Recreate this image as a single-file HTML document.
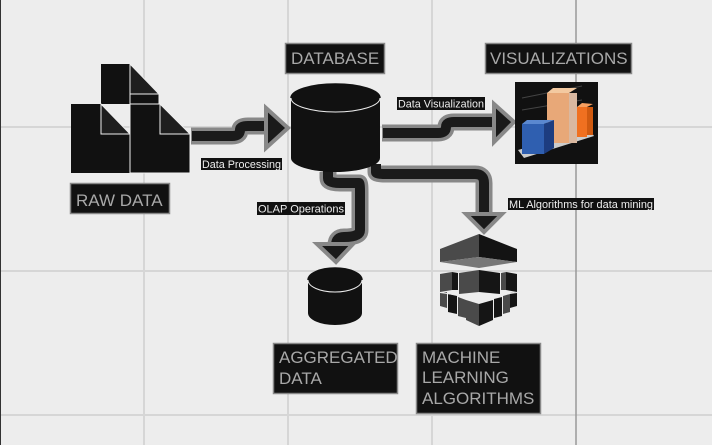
<!DOCTYPE html>
<html><head><meta charset="utf-8"><style>
html,body{margin:0;padding:0;background:#ededed;}
svg{display:block;font-family:"Liberation Sans",sans-serif;}
.lbl{fill:#111;stroke:#888;stroke-width:1.5}
.lt{fill:#a8a8a8;font-size:17px}
.sm{fill:#111}
.st{fill:#eee;font-size:11px}
</style></head><body>
<svg width="712" height="445" viewBox="0 0 712 445">
<rect width="712" height="445" fill="#ededed"/>
<g stroke="#d6d6d6" stroke-width="2">
<line x1="144" y1="0" x2="144" y2="445"/><line x1="288" y1="0" x2="288" y2="445"/><line x1="432" y1="0" x2="432" y2="445"/>
<line x1="0" y1="127" x2="712" y2="127"/><line x1="0" y1="271" x2="712" y2="271"/><line x1="0" y1="415" x2="712" y2="415"/>
</g>
<line x1="576" y1="0" x2="576" y2="445" stroke="#999" stroke-width="1.5"/>
<line x1="0.5" y1="0" x2="0.5" y2="445" stroke="#333" stroke-width="1"/>

<!-- raw data icon -->
<g stroke="#eee" stroke-width="1">
<path d="M101 64 H130 V104 H101 Z" fill="#111" stroke="none"/>
<path d="M130 64 L159 94 H130 Z" fill="#1e1e1e"/>
<rect x="130" y="94" width="29" height="10" fill="#111"/>
<path d="M71 104 H101 L130 134 V173 H71 Z" fill="#111" stroke="none"/>
<path d="M101 104 L130 134 H101 Z" fill="#1e1e1e"/>
<path d="M130 104 H160 L190 134 V173 H130 Z" fill="#111"/>
<path d="M160 104 L190 134 H160 Z" fill="#1e1e1e"/>
</g>

<g fill="none" stroke-linejoin="round" stroke-linecap="butt">
<path d="M191 136 H232 Q240 136 240 130 Q240 126 248 126 H270" stroke="#888" stroke-width="17"/>
<path d="M192 136 H232 Q240 136 240 130 Q240 126 248 126 H272" stroke="#1a1a1a" stroke-width="10"/>
<path d="M382 133 H438 Q446 133 446 127 Q446 122 454 122 H492" stroke="#888" stroke-width="17"/>
<path d="M383 133 H438 Q446 133 446 127 Q446 122 454 122 H494" stroke="#1a1a1a" stroke-width="10"/>
<path d="M376 166 V172 Q376 174 385 174 H475 Q484 174 484 183 V215" stroke="#888" stroke-width="17"/>
<path d="M376 164 V172 Q376 174 385 174 H475 Q484 174 484 183 V217" stroke="#1a1a1a" stroke-width="10"/>
<path d="M328 172 V178 Q328 183 340 183 H359 Q360 183 360 192 V230 Q360 237 344 237 Q336 237 336 245 V248" stroke="#888" stroke-width="17"/>
<path d="M328 170 V178 Q328 183 340 183 H359 Q360 183 360 192 V230 Q360 237 344 237 Q336 237 336 245 V250" stroke="#1a1a1a" stroke-width="10"/>
</g>
<g stroke="#888" stroke-width="4" fill="#1a1a1a" stroke-linejoin="miter">
<path d="M266 108 L288 128 L266 148 Z"/>
<path d="M494 104 L514 122 L494 142 Z"/>
<path d="M466 214 L502 214 L484 232 Z"/>
<path d="M317 244 L353 244 L336 262 Z"/>
</g>

<path d="M291 98 V158 A44.5 14 0 0 0 380 158 V98 Z" fill="#111"/>
<ellipse cx="335.5" cy="98" rx="44.5" ry="14" fill="#111" stroke="#eee" stroke-width="1"/>
<path d="M291 98 A44.5 14 0 0 1 380 98" fill="#111" stroke="#111" stroke-width="1.5"/>
<path d="M308 280 V313 A27 12 0 0 0 362 313 V280 Z" fill="#111"/>
<ellipse cx="335" cy="280" rx="27" ry="12" fill="#111" stroke="#eee" stroke-width="1"/>
<path d="M308 280 A27 12 0 0 1 362 280" fill="#111" stroke="#111" stroke-width="1.5"/>

<rect x="515" y="82" width="83" height="82" fill="#111"/>
<line x1="522" y1="98" x2="582" y2="86" stroke="#444"/>
<line x1="522" y1="110" x2="582" y2="100" stroke="#444"/>
<polygon points="518,150 590,130 594,136 524,158" fill="#ccc"/>
<rect x="547" y="93" width="22" height="50" fill="#e8a878"/>
<polygon points="547,93 553,88 577,88 569,93" fill="#f3c9a0"/>
<rect x="569" y="93" width="8" height="50" fill="#d9b8a0"/>
<rect x="577" y="107" width="10" height="30" fill="#f07020"/>
<polygon points="577,107 582,103 593,104 587,107" fill="#f8a060"/>
<rect x="587" y="107" width="6" height="28" fill="#d05a10"/>
<rect x="522" y="124" width="22" height="30" fill="#2f5fb0"/>
<polygon points="522,124 527,120 554,120 544,124" fill="#5a88d0"/>
<polygon points="544,124 554,120 554,148 544,154" fill="#1d3d80"/>

<!-- ML icon -->
<polygon points="479,234 440,249 440,262 479,257" fill="#4a4a4a"/>
<polygon points="479,234 517,249 517,262 479,257" fill="#131313"/>
<polygon points="440,262 479,257 517,262 479,268" fill="#777"/>
<g>
<polygon points="440,274 452,272 452,290 440,292" fill="#4a4a4a"/>
<polygon points="452,272 458,273 458,290 452,290" fill="#151515"/>
<polygon points="459,273 479,270 479,292 459,294" fill="#4a4a4a"/>
<polygon points="479,270 500,273 500,294 479,292" fill="#151515"/>
<polygon points="501,273 506,272 506,290 501,290" fill="#4a4a4a"/>
<polygon points="506,272 517,274 517,292 506,290" fill="#151515"/>
<polygon points="440,293 447,292 447,308 440,306" fill="#4a4a4a"/>
<polygon points="448,294 457,296 457,314 448,312" fill="#151515"/>
<polygon points="458,297 466,300 466,318 458,316" fill="#4a4a4a"/>
<polygon points="466,300 479,304 479,326 466,320" fill="#4a4a4a"/>
<polygon points="479,304 493,300 493,320 479,326" fill="#151515"/>
<polygon points="494,299 502,297 502,316 494,318" fill="#151515"/>
<polygon points="503,296 510,294 510,312 503,314" fill="#4a4a4a"/>
<polygon points="510,293 517,292 517,306 510,308" fill="#151515"/>
<line x1="440" y1="292.5" x2="479" y2="298" stroke="#ededed" stroke-width="1"/>
<line x1="479" y1="298" x2="517" y2="292.5" stroke="#ededed" stroke-width="1"/>
</g>

<rect class="lbl" x="70.5" y="183.5" width="99" height="30"/><text class="lt" x="76" y="206">RAW DATA</text>
<rect class="lbl" x="285.5" y="43.5" width="99" height="30"/><text class="lt" x="291" y="64">DATABASE</text>
<rect class="lbl" x="485.5" y="43.5" width="146" height="30"/><text class="lt" x="490" y="64">VISUALIZATIONS</text>
<rect class="lbl" x="273.5" y="343.5" width="124" height="50"/><text class="lt" x="279" y="363">AGGREGATED</text><text class="lt" x="279" y="384">DATA</text>
<rect class="lbl" x="416.5" y="343.5" width="124" height="70"/><text class="lt" x="422" y="363">MACHINE</text><text class="lt" x="422" y="383">LEARNING</text><text class="lt" x="422" y="404">ALGORITHMS</text>

<rect class="sm" x="201" y="158" width="81" height="12"/><text class="st" x="202" y="168" textLength="79" lengthAdjust="spacingAndGlyphs">Data Processing</text>
<rect class="sm" x="397" y="97" width="88" height="13"/><text class="st" x="398" y="107.5" textLength="86" lengthAdjust="spacingAndGlyphs">Data Visualization</text>
<rect class="sm" x="257" y="202" width="88" height="13"/><text class="st" x="258" y="212.5" textLength="86" lengthAdjust="spacingAndGlyphs">OLAP Operations</text>
<rect class="sm" x="508" y="198" width="146" height="12"/><text class="st" x="509" y="208" textLength="144" lengthAdjust="spacingAndGlyphs">ML Algorithms for data mining</text>
</svg>
</body></html>
